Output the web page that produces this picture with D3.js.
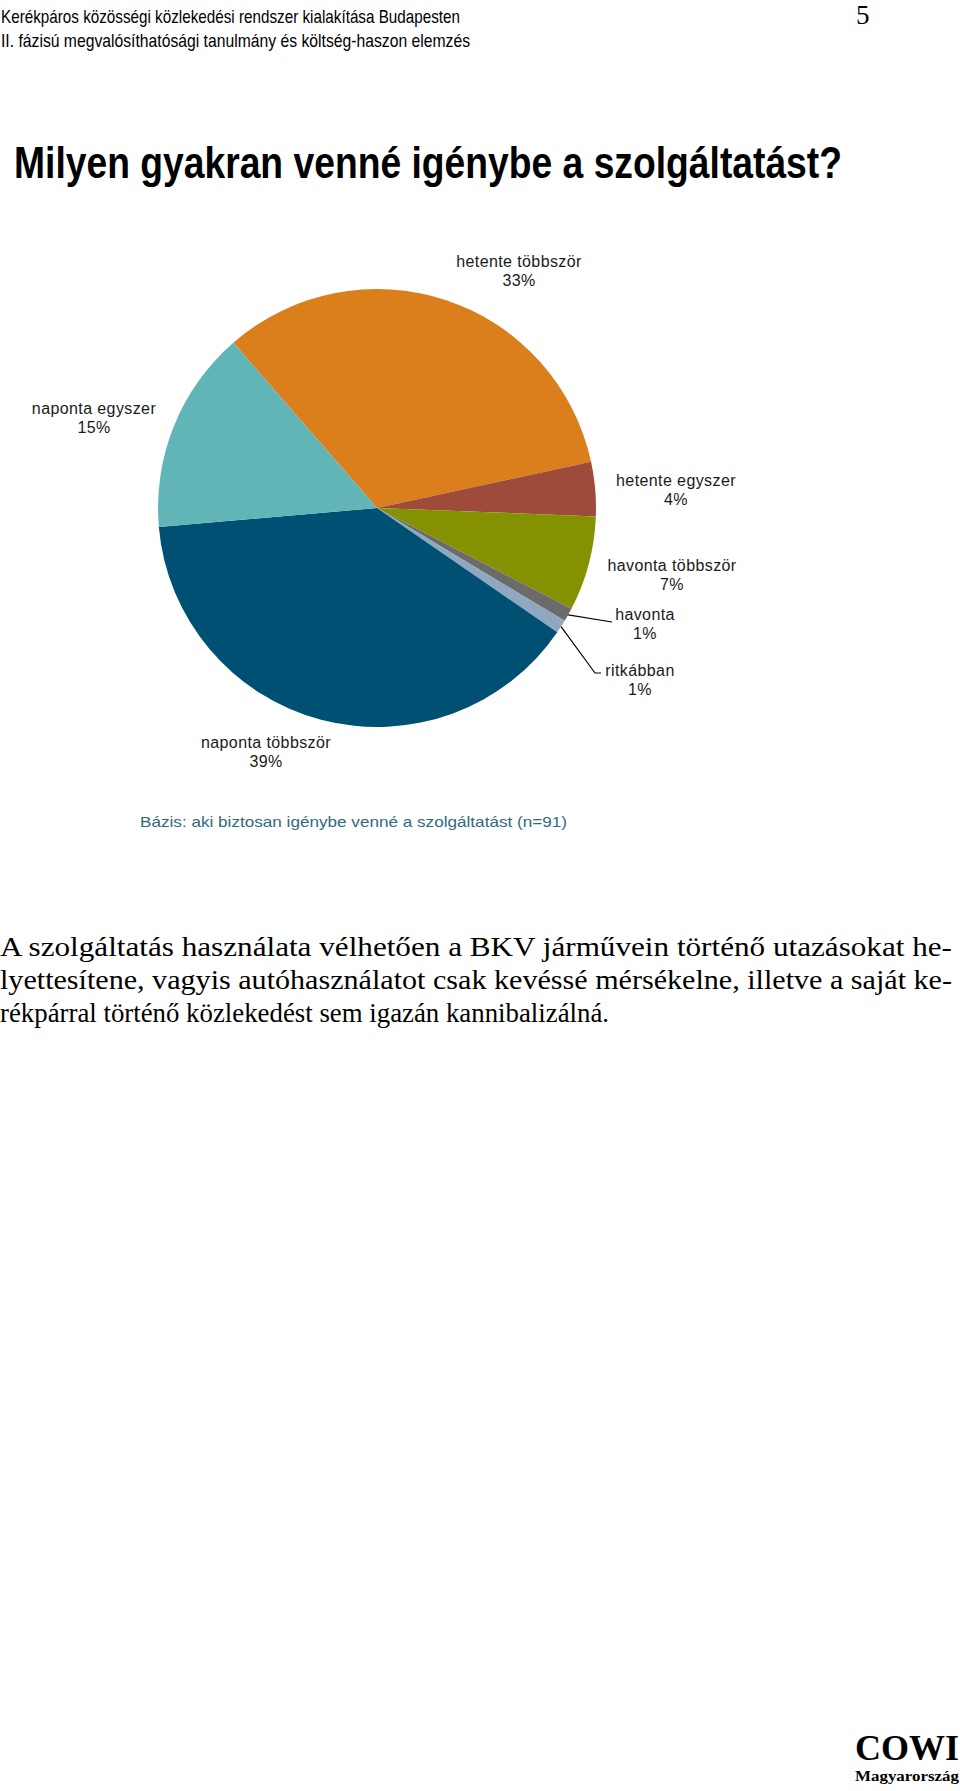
<!DOCTYPE html>
<html><head><meta charset="utf-8">
<script src="https://cdn.jsdelivr.net/npm/d3@7"></script>
<style>body{margin:0;background:#fff;} svg{display:block;}</style>
</head><body>
<script>
// Data
const categories = ["hetente többször","hetente egyszer","havonta többször","havonta","ritkábban","naponta többször","naponta egyszer"];
const values = [33, 4, 7, 1, 1, 39, 15];
const colors = ["#DB7E1C","#9E4B3B","#849100","#6B6B6B","#8FA8BF","#005073","#62B5B7"];
const headerLines = ["Kerékpáros közösségi közlekedési rendszer kialakítása Budapesten","II. fázisú megvalósíthatósági tanulmány és költség-haszon elemzés"];
const pageNumber = "5";
const titleText = "Milyen gyakran venné igénybe a szolgáltatást?";
const baseText = "Bázis: aki biztosan igénybe venné a szolgáltatást (n=91)";
const paragraphLines = ["A szolgáltatás használata vélhetően a BKV járművein történő utazásokat he-","lyettesítene, vagyis autóhasználatot csak kevéssé mérsékelne, illetve a saját ke-","rékpárral történő közlekedést sem igazán kannibalizálná."];

const W = 960, H = 1791;
const svg = d3.select("body").append("svg").attr("width", W).attr("height", H);

// header
const hdr = svg.append("g").attr("font-family","'Liberation Sans', Arial, sans-serif").attr("fill","#000");
hdr.append("text").attr("x",1).attr("y",23).attr("font-size",19).attr("textLength",459).attr("lengthAdjust","spacingAndGlyphs").text(headerLines[0]);
hdr.append("text").attr("x",1).attr("y",47).attr("font-size",19).attr("textLength",469).attr("lengthAdjust","spacingAndGlyphs").text(headerLines[1]);
svg.append("text").attr("x",856).attr("y",24).attr("font-family","'Liberation Serif','Times New Roman',serif").attr("font-size",27).text(pageNumber);

// title (condensed look: smaller font stretched vertically)
svg.append("text").attr("transform","translate(14,178) scale(1,1.22)").attr("x",0).attr("y",0)
  .attr("font-family","'Liberation Sans', Arial, sans-serif")
  .attr("font-weight","bold").attr("font-size",36).attr("textLength",828).attr("lengthAdjust","spacingAndGlyphs").text(titleText);

// pie
const cx = 377, cy = 508, R = 219;
const startDeg = -41;
const pie = d3.pie().sort(null).value(d => d)
  .startAngle(startDeg*Math.PI/180).endAngle((startDeg+360)*Math.PI/180);
const arcs = pie(values);
const arc = d3.arc().innerRadius(0).outerRadius(R);
const g = svg.append("g").attr("transform",`translate(${cx},${cy})`);
g.selectAll("path").data(arcs).join("path").attr("d",arc).attr("fill",(d,i)=>colors[i]);

// labels
const labelPos = [
  {x:519, y:267, anchor:"middle"},
  {x:676, y:486, anchor:"middle"},
  {x:672, y:571, anchor:"middle"},
  {x:645, y:620, anchor:"middle"},
  {x:640, y:676, anchor:"middle"},
  {x:266, y:748, anchor:"middle"},
  {x:94,  y:414, anchor:"middle"}
];
const lab = svg.append("g").attr("font-family","'Liberation Sans', Arial, sans-serif").attr("font-size",16).attr("fill","#1a1a1a").attr("letter-spacing","0.4");
arcs.forEach((a,i)=>{
  const p = labelPos[i];
  const t = lab.append("text").attr("text-anchor",p.anchor);
  t.append("tspan").attr("x",p.x).attr("y",p.y).text(categories[i]);
  t.append("tspan").attr("x",p.x).attr("y",p.y+19).text(values[i]+"%");
});

// leader lines for small slices
function edgePt(a){ const m=(a.startAngle+a.endAngle)/2; return [cx+R*Math.sin(m), cy-R*Math.cos(m)]; }
const p3 = edgePt(arcs[3]);
svg.append("path").attr("d",`M${p3[0]},${p3[1]}L612,622`).attr("stroke","#000").attr("stroke-width",1.2).attr("fill","none");
const p4 = edgePt(arcs[4]);
svg.append("path").attr("d",`M${p4[0]},${p4[1]}L595,673L601,673`).attr("stroke","#000").attr("stroke-width",1.2).attr("fill","none");

// base text
svg.append("text").attr("x",140).attr("y",827).attr("font-family","'Liberation Sans', Arial, sans-serif")
  .attr("font-size",15).attr("fill","#2F6A7E").attr("textLength",427).attr("lengthAdjust","spacingAndGlyphs").text(baseText);

// paragraph
const para = svg.append("g").attr("font-family","'Liberation Serif','Times New Roman',serif").attr("font-size",27).attr("fill","#000");
const pLens = [952, 952, 609];
paragraphLines.forEach((l,i)=>{
  para.append("text").attr("x",0).attr("y",956+i*33).attr("textLength",pLens[i]).attr("lengthAdjust","spacingAndGlyphs").text(l);
});

// logo
const logo = svg.append("g").attr("font-family","'Liberation Serif','Times New Roman',serif").attr("font-weight","bold").attr("fill","#000");
logo.append("text").attr("x",855).attr("y",1760).attr("font-size",36).attr("textLength",104).attr("lengthAdjust","spacingAndGlyphs").text("COWI");
logo.append("text").attr("x",855).attr("y",1781).attr("font-size",15).attr("textLength",104).attr("lengthAdjust","spacingAndGlyphs").text("Magyarország");
</script>
</body></html>
